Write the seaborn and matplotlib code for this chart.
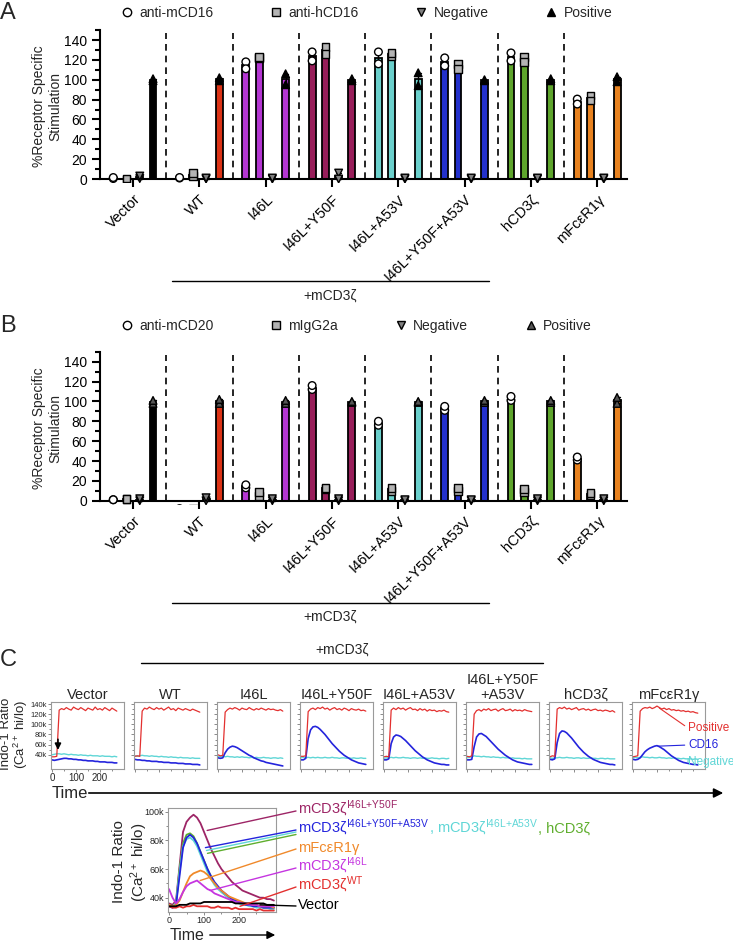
import matplotlib
matplotlib.use("Agg")
import matplotlib.pyplot as plt
from matplotlib.lines import Line2D
from matplotlib.patches import FancyArrowPatch
import pandas as pd
import seaborn as sns

W, H = 733, 941

# ---- panels A / B : bar charts ----
constructs = ["Vector", "WT", "I46L", "I46L+Y50F", "I46L+A53V",
              "I46L+Y50F+A53V", "hCD3ζ", "mFcεR1γ"]
bar_colors = ["#000000", "#dc3316", "#b436d2", "#981e5a",
              "#6bd0cc", "#2331cc", "#5ea52c", "#e8821f"]

stims_a = ["anti-mCD16", "anti-hCD16", "Negative", "Positive"]
mcd16_a = [[0.5, 1.5], [1.0, 1.5], [118, 111], [128, 119], [128, 116], [122, 114], [127, 119], [80.5, 75.5]]
hcd16_a = [[-0.5, 0.5], [3, 6], [122, 123], [133, 126], [124, 127], [116, 111], [123, 118], [84, 79]]
neg_a = [[0.5, 3], [0, 1], [0, 1], [6, 0], [0, 1], [0, 1], [0, 1], [0, 1]]
pos_a = [[99, 101], [99, 102], [106, 95], [99, 101], [107, 94], [99, 100], [99, 101], [103, 98]]

stims_b = ["anti-mCD20", "mIgG2a", "Negative", "Positive"]
mcd20_b = [[1, 1], [-8, -9], [13, 16], [112, 116], [76, 80], [91, 95], [101, 105], [41, 44]]
migg_b = [[2, 2], [-8, -9], [5, 9], [12, 13], [10, 13], [10, 13], [9, 12], [6, 8]]
neg_b = [[0, 2], [0, 3], [0, 2], [0, 2], [0, 1], [0, 1], [0, 2], [0, 2]]
pos_b = [[98, 101], [98, 102], [98, 101], [99, 100], [99, 100], [99, 101], [99, 101], [98, 104]]

faces_a = ["white", "#b4b4b4", "#808080", "black"]
faces_b = ["white", "#b4b4b4", "#808080", "#555555"]
markers = ["o", "s", "v", "^"]

# ---- panel C : calcium flux traces (values in thousands) ----
titles_c = ["Vector", "WT", "I46L", "I46L+Y50F", "I46L+A53V",
            "I46L+Y50F\n+A53V", "hCD3ζ", "mFcεR1γ"]
time_top = [0, 10, 20, 30, 40, 50, 60, 70, 80, 90, 100, 110, 120, 130,
            140, 150, 160, 170, 180, 190, 200, 210, 220, 230, 240, 250, 260, 270]

pos_vector = [36, 36, 37, 128, 131, 129, 133, 130, 128, 134, 131, 129, 133, 130, 127, 132, 130, 128, 134, 129, 131, 128, 133, 130, 127, 132, 129, 126]
pos_wt = [37, 38, 37, 126, 132, 130, 134, 131, 129, 133, 130, 132, 128, 131, 134, 129, 131, 127, 132, 130, 128, 131, 129, 127, 130, 128, 126, 124]
pos_i46l = [40, 38, 39, 124, 129, 132, 130, 133, 131, 128, 132, 130, 129, 133, 130, 128, 131, 129, 132, 130, 128, 131, 129, 130, 128, 127, 129, 126]
pos_y50f = [37, 37, 38, 125, 130, 132, 129, 133, 131, 134, 130, 132, 128, 131, 133, 129, 131, 128, 132, 130, 127, 131, 129, 128, 130, 127, 128, 126]
pos_a53v = [36, 37, 36, 128, 132, 129, 133, 130, 132, 128, 131, 133, 129, 130, 127, 131, 128, 130, 126, 129, 127, 128, 125, 127, 126, 128, 125, 124]
pos_triple = [37, 36, 38, 120, 127, 129, 126, 130, 128, 131, 127, 129, 130, 126, 129, 131, 127, 128, 130, 126, 129, 127, 128, 126, 129, 127, 126, 125]
pos_hcd3 = [36, 38, 37, 130, 133, 131, 134, 130, 132, 129, 131, 133, 128, 130, 131, 128, 130, 127, 129, 130, 127, 128, 126, 128, 127, 125, 127, 124]
pos_fcer = [36, 37, 38, 126, 131, 133, 132, 134, 131, 133, 136, 133, 130, 132, 129, 131, 128, 129, 127, 128, 126, 127, 125, 126, 124, 125, 123, 122]

neg_vector = [40, 41, 42, 42, 41, 42, 41, 40, 41, 40, 40, 39, 40, 39, 39, 38, 39, 38, 38, 38, 37, 38, 37, 37, 37, 36, 37, 36]
neg_wt = [38, 37, 38, 39, 38, 38, 37, 38, 37, 37, 36, 37, 36, 36, 35, 36, 35, 35, 34, 35, 34, 34, 34, 33, 34, 33, 33, 33]
neg_i46l = [37, 36, 37, 36, 37, 36, 36, 35, 36, 35, 36, 35, 35, 34, 35, 34, 35, 34, 34, 35, 34, 34, 33, 34, 34, 33, 34, 33]
neg_y50f = [34, 35, 34, 35, 34, 35, 34, 35, 34, 34, 35, 34, 34, 35, 34, 34, 33, 34, 34, 33, 34, 33, 34, 33, 33, 34, 33, 33]
neg_a53v = [33, 34, 34, 35, 34, 35, 34, 34, 35, 34, 34, 33, 34, 34, 33, 34, 33, 34, 33, 33, 34, 33, 33, 32, 33, 33, 32, 33]
neg_triple = [34, 35, 36, 38, 37, 37, 36, 37, 36, 36, 35, 36, 35, 35, 34, 35, 34, 34, 33, 34, 33, 33, 33, 32, 33, 32, 32, 32]
neg_hcd3 = [34, 33, 34, 34, 35, 34, 34, 35, 34, 34, 33, 34, 34, 33, 34, 33, 33, 34, 33, 33, 32, 33, 33, 32, 33, 32, 32, 32]
neg_fcer = [34, 35, 34, 35, 36, 35, 35, 34, 35, 34, 34, 35, 34, 34, 33, 34, 33, 34, 33, 33, 32, 33, 32, 32, 32, 31, 32, 31]

cd16_vector = [30, 29, 30, 31, 32, 33, 33, 32, 32, 31, 31, 30, 30, 29, 29, 28, 28, 28, 27, 27, 26, 26, 26, 25, 25, 25, 24, 24]
cd16_wt = [31, 30, 30, 29, 29, 28, 28, 27, 27, 27, 26, 26, 25, 25, 25, 24, 24, 24, 23, 23, 23, 22, 22, 22, 21, 21, 21, 20]
cd16_i46l = [34, 33, 34, 44, 51, 55, 57, 56, 54, 51, 48, 45, 42, 39, 37, 34, 32, 30, 28, 27, 25, 24, 23, 22, 21, 20, 19, 18]
cd16_y50f = [30, 30, 33, 72, 89, 95, 96, 94, 90, 85, 80, 74, 68, 62, 57, 52, 47, 43, 39, 36, 33, 30, 28, 26, 24, 23, 22, 21]
cd16_a53v = [30, 30, 32, 62, 75, 79, 78, 76, 72, 68, 63, 58, 53, 48, 44, 40, 36, 33, 30, 28, 26, 24, 23, 22, 21, 21, 20, 20]
cd16_triple = [30, 30, 31, 56, 75, 81, 82, 79, 76, 71, 66, 61, 56, 51, 47, 43, 39, 36, 33, 30, 28, 26, 25, 24, 23, 22, 21, 21]
cd16_hcd3 = [31, 30, 32, 64, 82, 87, 86, 83, 78, 73, 67, 61, 55, 50, 45, 41, 37, 34, 31, 29, 27, 25, 24, 23, 22, 21, 21, 20]
cd16_fcer = [31, 30, 31, 34, 40, 46, 50, 53, 55, 57, 58, 56, 53, 50, 46, 42, 38, 35, 32, 29, 27, 25, 24, 23, 22, 21, 21, 20]

time_bottom = [0, 10, 20, 30, 40, 50, 60, 70, 80, 90, 100, 110, 120, 130, 140, 150,
               160, 170, 180, 190, 200, 210, 220, 230, 240, 250, 260, 270, 280, 290, 300]
y50f_b = [36, 35, 38, 62, 86, 93, 96, 98, 96, 92, 86, 80, 74, 69, 64, 60, 57, 54, 51, 49, 47, 45, 44, 43, 42, 41, 40, 40, 39, 39, 38]
hcd3_b = [35, 34, 36, 60, 78, 84, 85, 83, 78, 72, 66, 60, 55, 50, 47, 44, 42, 40, 39, 38, 37, 36, 35, 35, 34, 34, 34, 33, 33, 33, 33]
a53v_b = [34, 34, 36, 58, 76, 81, 82, 80, 76, 70, 64, 58, 53, 49, 46, 44, 42, 40, 38, 37, 36, 35, 35, 34, 34, 33, 33, 33, 33, 32, 32]
triple_b = [34, 33, 35, 55, 75, 82, 84, 82, 78, 72, 66, 60, 55, 51, 48, 45, 43, 41, 39, 38, 37, 36, 35, 35, 34, 34, 34, 33, 33, 33, 33]
fcer_b = [35, 34, 35, 38, 44, 50, 55, 57, 58, 59, 58, 56, 53, 50, 47, 45, 43, 41, 40, 39, 38, 37, 36, 36, 35, 35, 34, 34, 34, 34, 33]
i46l_b = [46, 40, 36, 39, 44, 48, 50, 51, 52, 50, 48, 46, 45, 43, 42, 41, 40, 39, 38, 37, 37, 36, 36, 35, 35, 35, 34, 34, 34, 34, 34]
wt_b = [34, 33, 33, 34, 33, 34, 34, 35, 34, 34, 34, 34, 33, 33, 34, 33, 33, 33, 32, 33, 32, 32, 32, 32, 32, 31, 32, 31, 31, 31, 31]
vec_b = [34, 34, 34, 35, 35, 35, 36, 36, 36, 36, 37, 37, 37, 37, 37, 37, 37, 37, 37, 36, 36, 36, 36, 36, 36, 36, 36, 36, 35, 35, 35]

RED, BLUE, CYAN = "#e3302f", "#2424dc", "#5fd6d6"
MAROON, GREEN, ORANGE, MAGENTA = "#9d2566", "#5fae2e", "#f0892a", "#c535e0"

sns.set_style("ticks")
plt.rcParams["font.family"] = ["Liberation Sans", "DejaVu Sans"]
plt.rcParams["mathtext.fontset"] = "custom"
plt.rcParams["mathtext.rm"] = "Liberation Sans"
plt.rcParams["mathtext.it"] = "Liberation Sans:italic"
plt.rcParams["mathtext.bf"] = "Liberation Sans:bold"


def fx(x):
    return x / W


def fy(y):
    return 1 - y / H


def long_form(stims, series):
    rows = []
    for stim, values in zip(stims, series):
        for construct, reps in zip(constructs, values):
            for v in reps:
                rows.append({"construct": construct, "stim": stim, "value": v})
    return pd.DataFrame(rows)


fig = plt.figure(figsize=(W / 100, H / 100), dpi=100)


def bar_panel(y_zero, stims, series, faces, letter, letter_y):
    ax = fig.add_axes([fx(100), fy(y_zero + 4), fx(627) - fx(100), 154 * 0.993 / H])
    df = long_form(stims, series)
    sns.barplot(data=df, x="construct", y="value", hue="stim", order=constructs,
                hue_order=stims, errorbar="se", width=0.8, gap=0.48, capsize=0.3,
                err_kws={"color": "black", "linewidth": 1}, legend=False, ax=ax)
    for cont in ax.containers:
        for bar in cont:
            idx = int(round(bar.get_x() + bar.get_width() / 2))
            bar.set_facecolor(bar_colors[idx])
            bar.set_edgecolor("black")
            bar.set_linewidth(1.3)
            if bar.get_height() < 0:
                bar.set_visible(False)
    for stim, mk, fc in zip(stims, markers, faces):
        sns.stripplot(data=df[df["stim"] == stim], x="construct", y="value", hue="stim",
                      order=constructs, hue_order=stims, dodge=True, jitter=False,
                      marker=mk, palette={s: fc for s in stims}, edgecolor="black",
                      linewidth=1, size=5.5, legend=False, zorder=4, ax=ax)
    for i in range(7):
        ax.vlines(i + 0.5, 0, 147, colors="black", linestyles=(0, (4, 3)), linewidth=1.2)
    ax.set_xlim(-0.5, 7.45)
    ax.set_ylim(-4, 150)
    ax.set_yticks(range(0, 141, 20))
    ax.set_yticks(range(10, 151, 20), minor=True)
    ax.spines[["top", "right"]].set_visible(False)
    ax.spines["bottom"].set_position(("data", 0))
    ax.spines["left"].set_bounds(0, 150)
    for sp in ("left", "bottom"):
        ax.spines[sp].set_linewidth(1.5)
        ax.spines[sp].set_color("black")
    ax.tick_params(axis="both", which="major", length=6, width=1.5, colors="black", labelsize=10)
    ax.tick_params(axis="y", which="minor", length=3.5, width=1.5, colors="black")
    ax.set_xticks(range(8))
    ax.set_xticklabels(constructs, rotation=45, ha="right", rotation_mode="anchor", fontsize=10.5)
    ax.set_xlabel("")
    ax.set_ylabel("%Receptor Specific\nStimulation", fontsize=10)
    ax.yaxis.set_label_coords(-0.071, 0.5)
    handles = [Line2D([], [], ls="", marker=mk, markerfacecolor=fc, markeredgecolor="black",
                      markeredgewidth=1, markersize=6) for mk, fc in zip(markers, faces)]
    fig.legend(handles, stims, loc="center left", bbox_to_anchor=(fx(121), fy(letter_y)),
               ncol=4, frameon=False, fontsize=10, handlelength=0.8, handletextpad=0.5,
               columnspacing=4.1, borderpad=0, borderaxespad=0)
    fig.text(fx(0), fy(letter_y), letter, fontsize=17, va="center", ha="left")
    return ax


bar_panel(179, stims_a, [mcd16_a, hcd16_a, neg_a, pos_a], faces_a, "A", 13)
bar_panel(500.7, stims_b, [mcd20_b, migg_b, neg_b, pos_b], faces_b, "B", 326)

# +mCD3zeta brackets
for line_y, text_y in [(281, 296), (603, 617)]:
    fig.add_artist(Line2D([fx(172), fx(489)], [fy(line_y), fy(line_y)], color="black", lw=1))
    fig.text(fx(330), fy(text_y), "+mCD3ζ", fontsize=10, ha="center", va="center")

# ---- panel C ----
fig.text(fx(0), fy(660), "C", fontsize=17, va="center", ha="left")
fig.text(fx(342), fy(650), "+mCD3ζ", fontsize=10, ha="center", va="center")
fig.add_artist(Line2D([fx(141), fx(543)], [fy(663), fy(663)], color="black", lw=1))

pos_traces = [pos_vector, pos_wt, pos_i46l, pos_y50f, pos_a53v, pos_triple, pos_hcd3, pos_fcer]
neg_traces = [neg_vector, neg_wt, neg_i46l, neg_y50f, neg_a53v, neg_triple, neg_hcd3, neg_fcer]
cd16_traces = [cd16_vector, cd16_wt, cd16_i46l, cd16_y50f, cd16_a53v, cd16_triple, cd16_hcd3, cd16_fcer]

TOP, BOT = 702, 769
for k in range(8):
    ax = fig.add_axes([fx(51 + 83 * k), fy(BOT), 73 / W, (BOT - TOP) / H])
    sns.lineplot(x=time_top, y=[v * 1000 for v in neg_traces[k]], color=CYAN, lw=1, ax=ax)
    sns.lineplot(x=time_top, y=[v * 1000 for v in cd16_traces[k]], color=BLUE, lw=1.2, ax=ax)
    sns.lineplot(x=time_top, y=[v * 1000 for v in pos_traces[k]], color=RED, lw=0.9, ax=ax)
    ax.set_xlim(-4, 300)
    ax.set_ylim(12000, 144000)
    ax.set_yticks([40000, 60000, 80000, 100000, 120000, 140000])
    ax.set_yticks([50000, 70000, 90000, 110000, 130000], minor=True)
    ax.set_xticks([0, 100, 200])
    ax.set_xticks([50, 150, 250], minor=True)
    for sp in ax.spines.values():
        sp.set_color("#9a9a9a")
        sp.set_linewidth(0.8)
    ax.tick_params(which="both", length=2, width=0.6, color="#777777", labelsize=5.5, pad=1)
    ax.tick_params(which="minor", length=1.2)
    if k == 0:
        ax.set_yticklabels(["40k", "60k", "80k", "100k", "120k", "140k"])
        ax.set_xticklabels(["0", "100", "200"], fontsize=7)
        ax.annotate("", xy=(25, 44000), xytext=(25, 76000),
                    arrowprops=dict(arrowstyle="-|>", color="black", lw=1.2, mutation_scale=9))
    else:
        ax.set_yticklabels([])
        ax.set_xticklabels([])
    ax.set_title(titles_c[k], fontsize=10.5, pad=2, linespacing=1.1)
    if k == 7:
        for label, col, xy, ty in [("Positive", RED, (110, 132000), 728),
                                   ("CD16", BLUE, (105, 57000), 745),
                                   ("Negative", CYAN, (230, 32000), 762)]:
            ax.annotate(label, xy=xy, xytext=(fx(688), fy(ty)), textcoords="figure fraction",
                        color=col, fontsize=8.5, va="center", annotation_clip=False,
                        arrowprops=dict(arrowstyle="-", color=col, lw=0.8, shrinkA=0,
                                        shrinkB=0, relpos=(0, 0.5)))

fig.text(fx(15), fy(734), "Indo-1 Ratio\n(Ca$^{2+}$ hi/lo)", rotation=90, ha="center",
         va="center", fontsize=9.5, multialignment="center", linespacing=0.95)
fig.text(fx(52), fy(793), "Time", fontsize=12, va="center", ha="left")
fig.add_artist(FancyArrowPatch((fx(86), fy(793)), (fx(726), fy(793)), transform=fig.transFigure,
                               arrowstyle="-|>", mutation_scale=14, color="black", lw=1.2))

# bottom overlay panel
axb = fig.add_axes([fx(168), fy(912), 108 / W, 104 / H])
overlay = [(y50f_b, MAROON), (hcd3_b, GREEN), (a53v_b, CYAN), (triple_b, BLUE),
           (fcer_b, ORANGE), (i46l_b, MAGENTA), (wt_b, RED), (vec_b, "black")]
for vals, col in overlay:
    sns.lineplot(x=time_bottom, y=[v * 1000 for v in vals], color=col, lw=1.3, ax=axb)
axb.set_xlim(-3, 306)
axb.set_ylim(30000, 102700)
axb.set_yticks([40000, 60000, 80000, 100000])
axb.set_yticklabels(["40k", "60k", "80k", "100k"])
axb.set_yticks([50000, 70000, 90000], minor=True)
axb.set_xticks([0, 100, 200])
axb.set_xticks([50, 150, 250], minor=True)
for sp in axb.spines.values():
    sp.set_color("#9a9a9a")
    sp.set_linewidth(0.8)
axb.tick_params(which="both", length=2, width=0.6, color="#777777", labelsize=6.5, pad=1)
axb.tick_params(which="minor", length=1.2)

fig.text(fx(131), fy(862), "Indo-1 Ratio\n(Ca$^{2+}$ hi/lo)", rotation=90, ha="center",
         va="center", fontsize=11, multialignment="center", linespacing=1.1)
fig.text(fx(170), fy(935), "Time", fontsize=11.5, va="center", ha="left")
fig.add_artist(FancyArrowPatch((fx(207), fy(935)), (fx(278), fy(935)), transform=fig.transFigure,
                               arrowstyle="-|>", mutation_scale=12, color="black", lw=1.0))

labels_bottom = [
    ("mCD3ζ$^{\\mathrm{I46L{+}Y50F}}$", MAROON, (109, 87000), 810),
    ("mCD3ζ$^{\\mathrm{I46L{+}Y50F{+}A53V}}$", BLUE, (104, 75000), 829),
    ("mFcεR1γ", ORANGE, (89, 52000), 848),
    ("mCD3ζ$^{\\mathrm{I46L}}$", MAGENTA, (117, 45000), 867),
    ("mCD3ζ$^{\\mathrm{WT}}$", RED, (203, 34000), 886),
    ("Vector", "black", (260, 35000), 905),
]
text_objs = {}
for text, col, xy, ty in labels_bottom:
    text_objs[col] = fig.text(fx(298), fy(ty + 4), text, color=col, fontsize=10.5,
                              va="baseline", ha="left")
    axb.annotate("", xy=xy, xytext=(fx(296), fy(ty + 1)), textcoords="figure fraction",
                 annotation_clip=False,
                 arrowprops=dict(arrowstyle="-", color=col, lw=1, shrinkA=0, shrinkB=0))

axb.annotate("", xy=(107, 73000), xytext=(fx(296), fy(832)), textcoords="figure fraction",
             arrowprops=dict(arrowstyle="-", color=CYAN, lw=1, shrinkA=0, shrinkB=0))
axb.annotate("", xy=(110, 71000), xytext=(fx(296), fy(834.5)), textcoords="figure fraction",
             arrowprops=dict(arrowstyle="-", color=GREEN, lw=1, shrinkA=0, shrinkB=0))

# continue the second label line in other colours, right after the blue text
fig.canvas.draw()
renderer = fig.canvas.get_renderer()
prev = text_objs[BLUE]
for extra, col in [(", mCD3ζ$^{\\mathrm{I46L{+}A53V}}$", CYAN), (", hCD3ζ", GREEN)]:
    x1 = prev.get_window_extent(renderer).x1
    prev = fig.text(x1 / W, fy(829 + 4), extra, color=col, fontsize=10.5,
                    va="baseline", ha="left")

fig.savefig("out.png", dpi=100)
